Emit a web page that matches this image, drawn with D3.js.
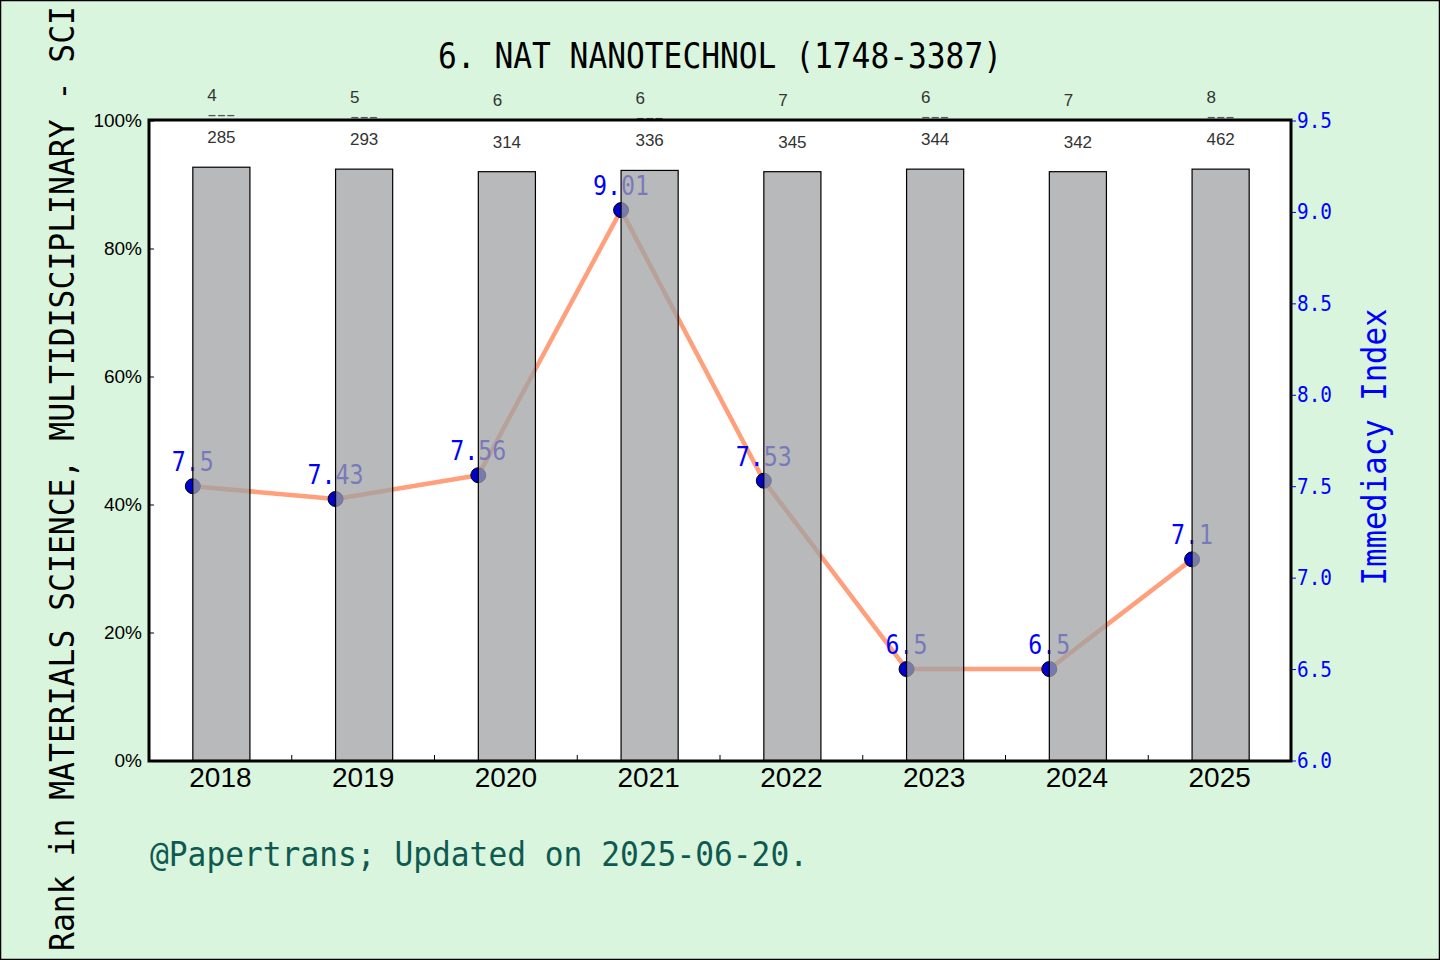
<!DOCTYPE html>
<html lang="en">
<head>
<meta charset="utf-8">
<title>NAT NANOTECHNOL</title>
<script src="https://d3js.org/d3.v7.min.js"></script>
<style>
  body { margin: 0; background: #d9f5de; }
  svg { display: block; }
</style>
</head>
<body>
<div id="container"></div>
<script>

var w = 1440;
var h = 960;

// data
var years = ["2018", "2019", "2020", "2021", "2022", "2023", "2024", "2025"];
var rankPct = [92.7, 92.4, 92.0, 92.2, 92.0, 92.4, 92.0, 92.4];
var ranks = [4, 5, 6, 6, 7, 6, 7, 8];
var totals = [285, 293, 314, 336, 345, 344, 342, 462];
var immediacy = [7.5, 7.43, 7.56, 9.01, 7.53, 6.5, 6.5, 7.1];
var pctTicks = [0, 20, 40, 60, 80, 100];
var iiTicks = [6.0, 6.5, 7.0, 7.5, 8.0, 8.5, 9.0, 9.5];

var mono = "'DejaVu Sans Mono', monospace";
var sans = "'Liberation Sans', Arial, sans-serif";
var narrow = "'Liberation Sans Narrow', 'Liberation Sans', Arial, sans-serif";

var pL = 149, pR = 1291, pT = 120, pB = 761;

var svg = d3.select("#container").append("svg")
    .attr("width", w).attr("height", h);

svg.append("rect").attr("x", 0.5).attr("y", 0.5)
    .attr("width", w - 1).attr("height", h - 1)
    .attr("fill", "#d9f5de").attr("stroke", "#000").attr("stroke-width", 1.5);

var x = d3.scaleBand().domain(years).range([pL, pR]).padding(0);
var yL = d3.scaleLinear().domain([0, 100]).range([pB - 0.5, pT + 0.5]);
var yR = d3.scaleLinear().domain([6.0, 9.5]).range([pB - 0.5, pT + 0.5]);

var bw = x.bandwidth();
var barW = bw * 0.4;
function barX(d) { return x(d) + bw / 2 - barW / 2 + 1; }
function ptX(d) { return barX(d); }

// rank + dashes above the plot (partly hidden by the frame)
var upper = svg.append("g");
var lower = [];
years.forEach(function(yr, i) {
    var t = yL(rankPct[i]);
    var cx = barX(yr) + barW / 2;
    // measure the total label first
    var probe = upper.append("text")
        .attr("font-family", sans).attr("font-size", 17).text(totals[i]);
    var tw = probe.node().getComputedTextLength();
    probe.remove();
    var x0 = cx - tw / 2;
    upper.append("text")
        .attr("x", x0).attr("y", t - 66)
        .attr("font-family", sans).attr("font-size", 17)
        .attr("fill", "#333").text(ranks[i]);
    upper.append("text")
        .attr("x", x0).attr("y", t - 47)
        .attr("font-family", sans).attr("font-size", 17)
        .attr("fill", "#555")
        .attr("textLength", tw).attr("lengthAdjust", "spacingAndGlyphs")
        .text("---");
    lower.push({ x: x0, y: t - 24, v: totals[i] });
});

// plot area
svg.append("rect").attr("x", pL).attr("y", pT)
    .attr("width", pR - pL).attr("height", pB - pT)
    .attr("fill", "#fff");

svg.append("g").selectAll("text").data(lower).enter().append("text")
    .attr("x", function(d) { return d.x; })
    .attr("y", function(d) { return d.y; })
    .attr("font-family", sans).attr("font-size", 17)
    .attr("fill", "#333").text(function(d) { return d.v; });

// line + points
var line = d3.line()
    .x(function(d, i) { return ptX(years[i]); })
    .y(function(d) { return yR(d); });

svg.append("path").datum(immediacy)
    .attr("d", line)
    .attr("fill", "none")
    .attr("stroke", "#ff9f7c")
    .attr("stroke-width", 4.5)
    .attr("stroke-linejoin", "round");

svg.selectAll("circle.pt").data(immediacy).enter().append("circle")
    .attr("class", "pt")
    .attr("cx", function(d, i) { return ptX(years[i]); })
    .attr("cy", function(d) { return yR(d); })
    .attr("r", 7.5)
    .attr("fill", "#0000cc")
    .attr("stroke", "#000").attr("stroke-width", 1);

svg.selectAll("text.val").data(immediacy).enter().append("text")
    .attr("class", "val")
    .attr("x", function(d, i) { return ptX(years[i]); })
    .attr("y", function(d) { return yR(d) - 15; })
    .attr("text-anchor", "middle")
    .attr("font-family", mono).attr("font-size", 27)
    .attr("fill", "#0000ff")
    .attr("textLength", function(d) { return 14 * String(d).length; })
    .attr("lengthAdjust", "spacingAndGlyphs")
    .text(function(d) { return String(d); });

// bars, semi-transparent over the line
svg.selectAll("rect.bar").data(rankPct).enter().append("rect")
    .attr("class", "bar")
    .attr("x", function(d, i) { return barX(years[i]); })
    .attr("y", function(d) { return yL(d); })
    .attr("width", barW)
    .attr("height", function(d) { return yL(0) - yL(d); })
    .attr("fill", "rgba(160,161,163,0.75)")
    .attr("stroke", "#000").attr("stroke-width", 1.2);

// axes
var axL = svg.append("g").attr("transform", "translate(" + pL + ",0)")
    .call(d3.axisRight(yL).tickValues(pctTicks).tickSize(5)
        .tickFormat(function(d) { return d + "%"; }));
axL.select(".domain").remove();
axL.selectAll("line").attr("stroke", "#000");
axL.selectAll("text").attr("x", -7).attr("text-anchor", "end")
    .attr("font-family", narrow).attr("font-size", 19).attr("fill", "#000");

var axR = svg.append("g").attr("transform", "translate(" + pR + ",0)")
    .call(d3.axisRight(yR).tickValues(iiTicks).tickSize(5)
        .tickFormat(d3.format(".1f")));
axR.select(".domain").remove();
axR.selectAll("line").attr("stroke", "#0000ff");
axR.selectAll("text").attr("x", 6)
    .attr("font-family", mono).attr("font-size", 22).attr("fill", "#0000ff")
    .attr("textLength", 35).attr("lengthAdjust", "spacingAndGlyphs");

var axB = svg.append("g").attr("transform", "translate(0," + pB + ")")
    .call(d3.axisBottom(x).tickSize(0).tickPadding(6));
axB.select(".domain").remove();
axB.selectAll("text").attr("font-family", sans).attr("font-size", 28)
    .attr("fill", "#000");

// minor ticks between years
svg.selectAll("line.minor").data(years.slice(1)).enter().append("line")
    .attr("x1", function(d) { return x(d); }).attr("x2", function(d) { return x(d); })
    .attr("y1", pB - 6).attr("y2", pB)
    .attr("stroke", "#000").attr("stroke-width", 1);

// frame
svg.append("rect").attr("x", pL).attr("y", pT)
    .attr("width", pR - pL).attr("height", pB - pT)
    .attr("fill", "none").attr("stroke", "#000").attr("stroke-width", 3);

// titles
svg.append("text").attr("x", 720).attr("y", 68)
    .attr("text-anchor", "middle")
    .attr("font-family", mono).attr("font-size", 35).attr("fill", "#000")
    .attr("textLength", 564).attr("lengthAdjust", "spacingAndGlyphs")
    .text("6. NAT NANOTECHNOL (1748-3387)");

svg.append("text").attr("x", 150).attr("y", 866)
    .attr("font-family", mono).attr("font-size", 33).attr("fill", "#0f5a50")
    .attr("textLength", 658).attr("lengthAdjust", "spacingAndGlyphs")
    .text("@Papertrans; Updated on 2025-06-20.");

svg.append("text")
    .attr("transform", "translate(74,951) rotate(-90)")
    .attr("font-family", mono).attr("font-size", 34).attr("fill", "#000")
    .attr("textLength", 945).attr("lengthAdjust", "spacingAndGlyphs")
    .text("Rank in MATERIALS SCIENCE, MULTIDISCIPLINARY - SCI");

svg.append("text")
    .attr("transform", "translate(1386,447) rotate(-90)")
    .attr("text-anchor", "middle")
    .attr("font-family", mono).attr("font-size", 34).attr("fill", "#0000ff")
    .attr("textLength", 277).attr("lengthAdjust", "spacingAndGlyphs")
    .text("Immediacy Index");

</script>
</body>
</html>
